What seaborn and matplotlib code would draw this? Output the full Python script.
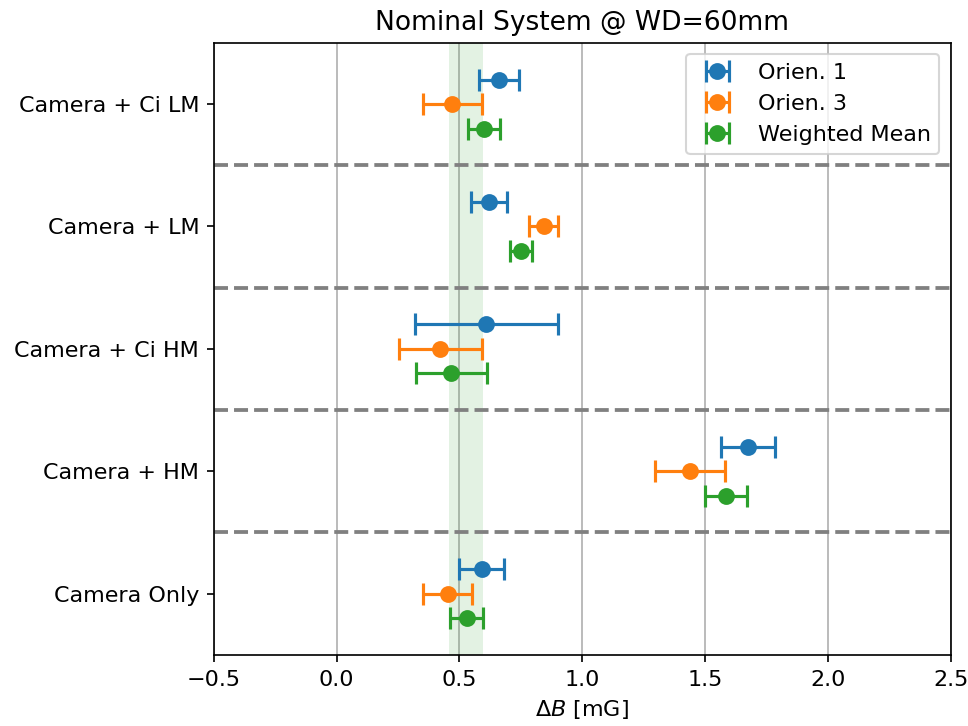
import matplotlib
matplotlib.use("Agg")
import matplotlib.pyplot as plt
import seaborn as sns
import numpy as np

categories = ["Camera Only", "Camera + HM", "Camera + Ci HM", "Camera + LM", "Camera + Ci LM"]
series_names = ["Orien. 1", "Orien. 3", "Weighted Mean"]

orien1_vals = [0.59, 1.675, 0.61, 0.62, 0.66]
orien1_errs = [0.09, 0.11, 0.29, 0.073, 0.082]
orien3_vals = [0.453, 1.44, 0.422, 0.843, 0.471]
orien3_errs = [0.10, 0.143, 0.17, 0.06, 0.12]
wmean_vals = [0.529, 1.585, 0.467, 0.75, 0.60]
wmean_errs = [0.068, 0.084, 0.145, 0.045, 0.066]

band_center = 0.527
band_half = 0.069

offsets = [0.2, 0.0, -0.2]

palette = sns.color_palette("tab10", 3)
plt.rcParams["font.size"] = 10.6

fig, ax = plt.subplots(figsize=(6.4, 4.8), dpi=151.25)
fig.subplots_adjust(left=0.221, right=0.982, bottom=0.098, top=0.941)

ypos = np.arange(len(categories))
ax.grid(axis="x", color="#b0b0b0", linewidth=0.8, zorder=0)
ax.set_axisbelow(True)
ax.axvspan(band_center - band_half, band_center + band_half,
           color=palette[2], alpha=0.13, linewidth=0, zorder=1)

all_vals = [orien1_vals, orien3_vals, wmean_vals]
all_errs = [orien1_errs, orien3_errs, wmean_errs]
for name, vals, errs, off, col in zip(series_names, all_vals, all_errs, offsets, palette):
    ax.errorbar(vals, ypos + off, xerr=errs, fmt="o", color=col,
                markersize=7, capsize=5, elinewidth=1.5, capthick=1.5,
                label=name, zorder=3)

for y in ypos[:-1] + 0.5:
    ax.axhline(y, color="gray", linestyle="--", linewidth=1.8, zorder=2)

ax.set_yticks(ypos)
ax.set_yticklabels(categories)
ax.set_ylim(-0.5, 4.5)
ax.set_xlim(-0.5, 2.5)
ax.set_xlabel(r"$\Delta B$ [mG]")
ax.set_title("Nominal System @ WD=60mm", fontsize=12.6)
ax.legend(loc="upper right")

fig.savefig("out.png", dpi=151.25)
